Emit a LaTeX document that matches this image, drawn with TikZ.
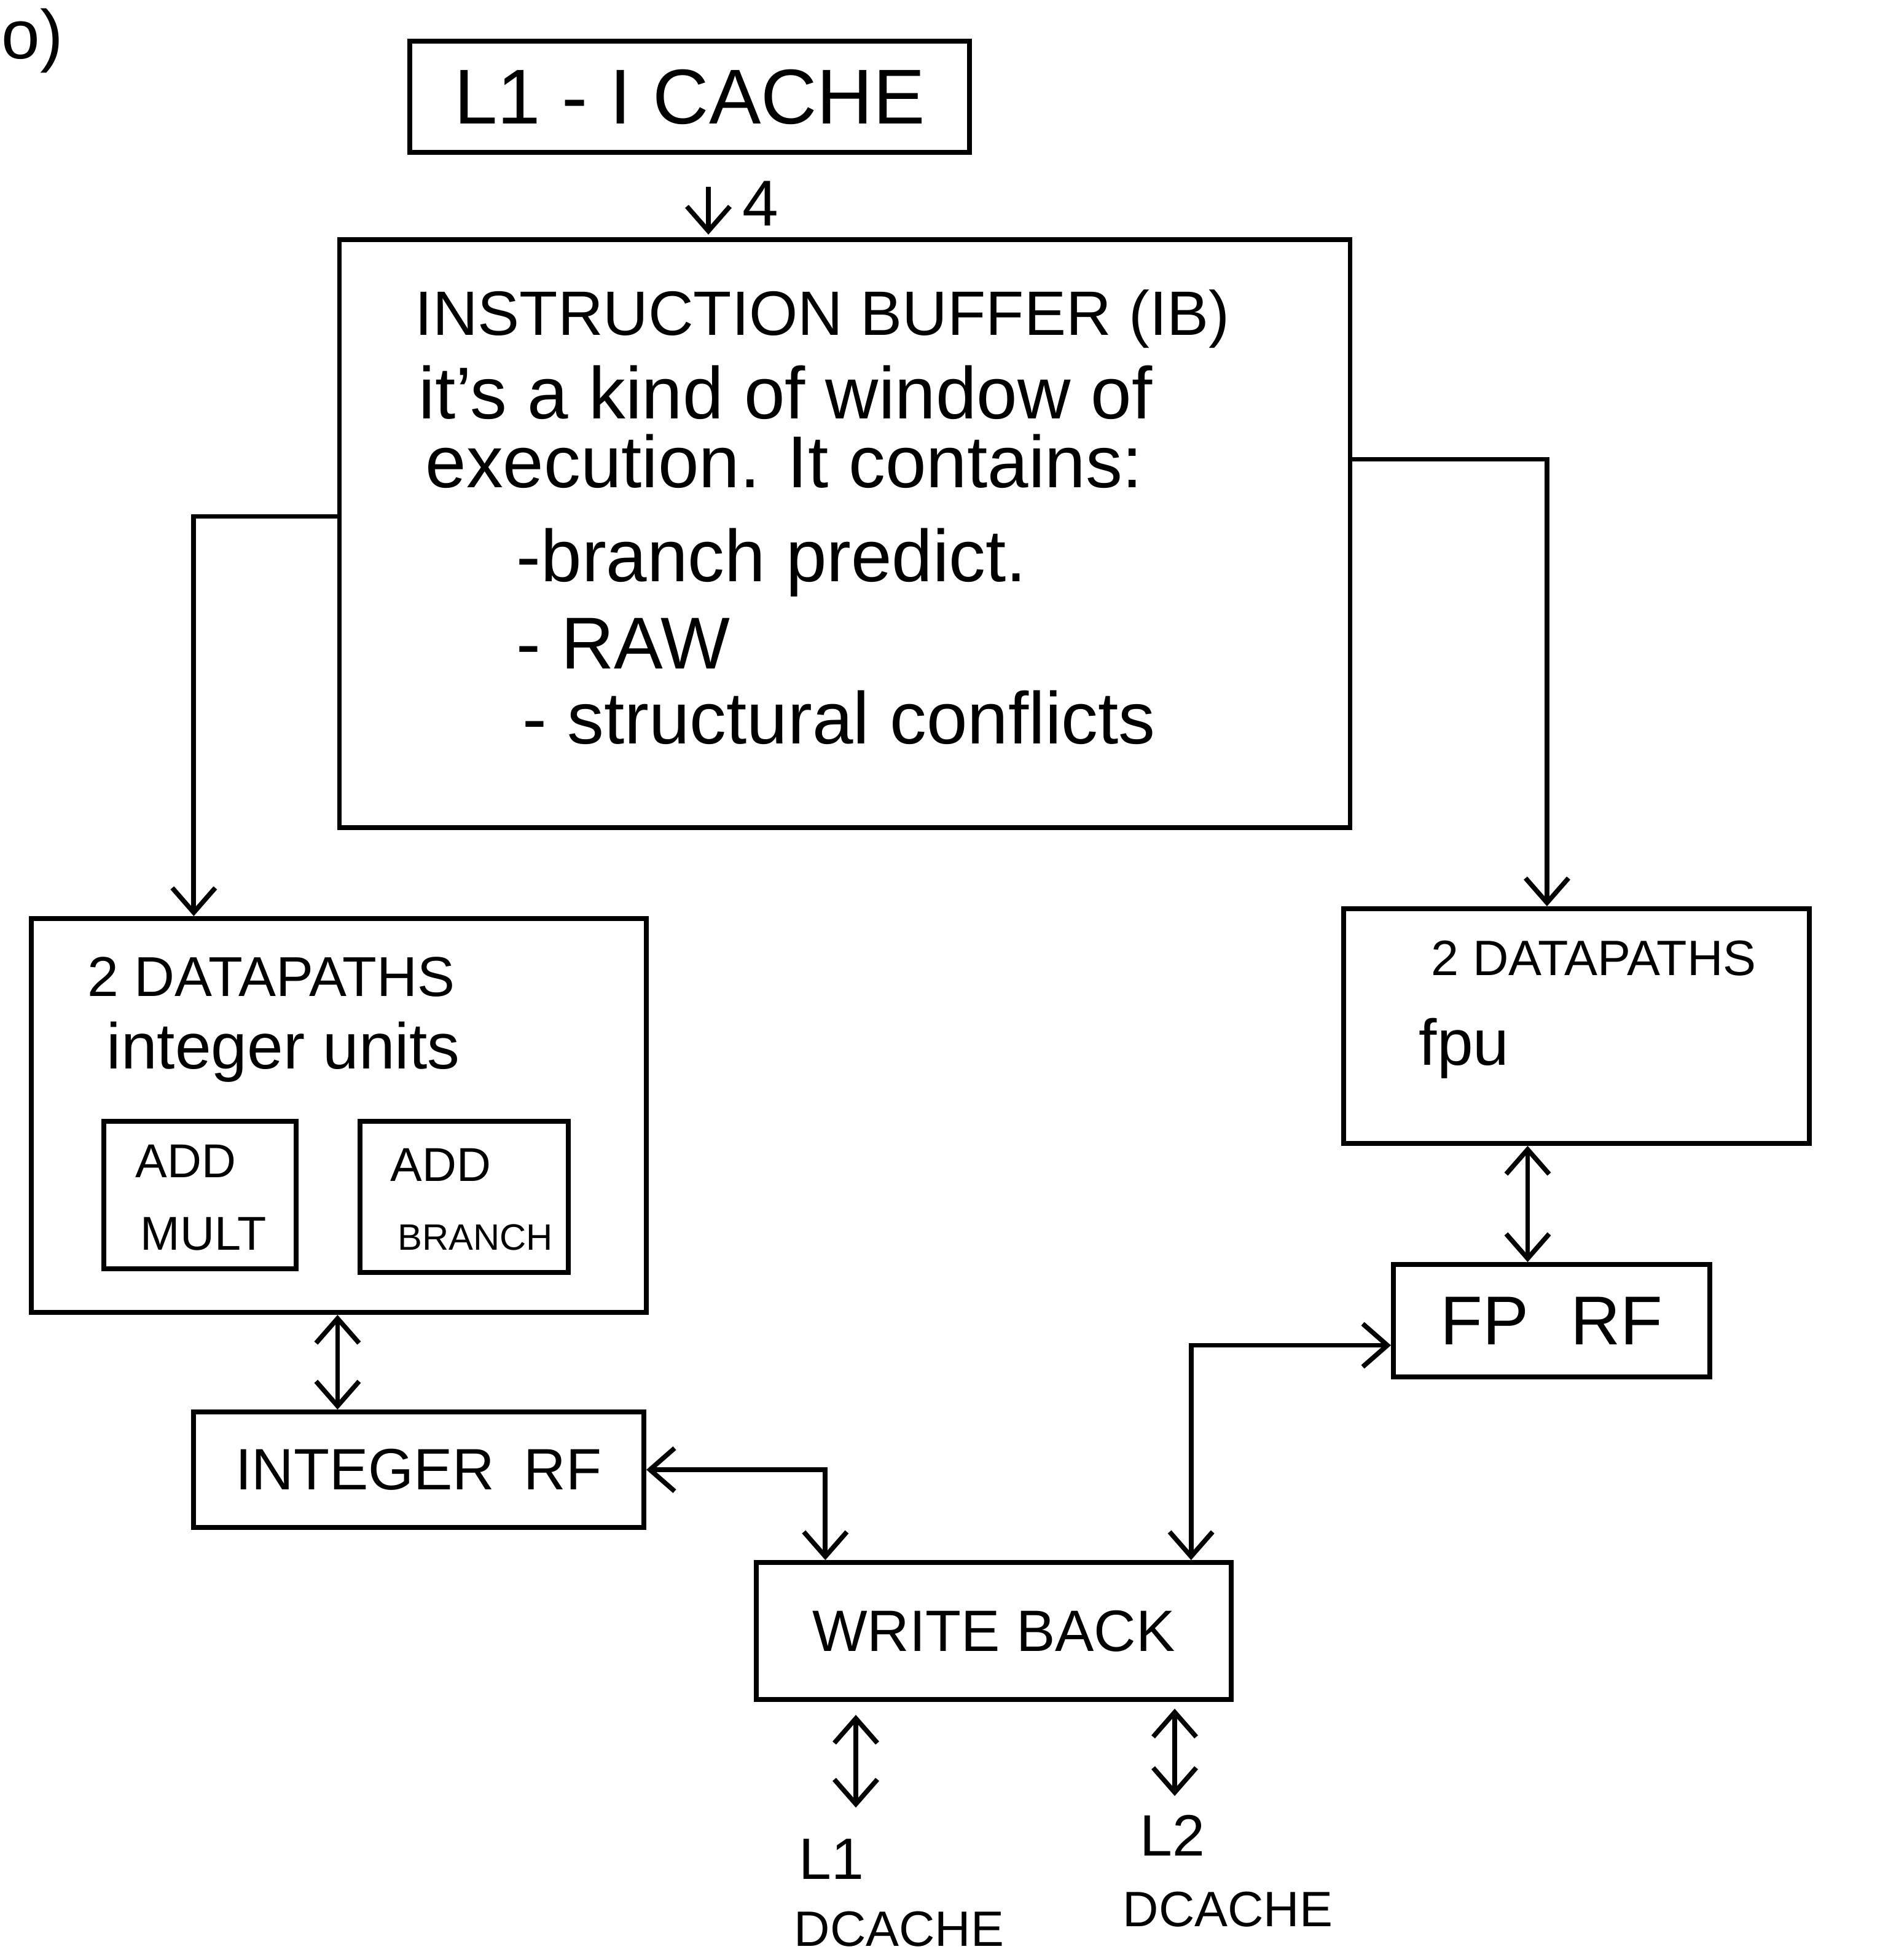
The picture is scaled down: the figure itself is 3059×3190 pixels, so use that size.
\documentclass[tikz,border=0pt]{standalone}
\usepackage{fontspec}
\setmainfont{Liberation Sans}
\usetikzlibrary{arrows.meta}
\begin{document}
\begin{tikzpicture}[x=0.01cm,y=-0.01cm,
  box/.style={draw,line width=2.2pt,rectangle,inner sep=0pt},
  arr/.style={line width=2.2pt,-{Straight Barb[length=4mm,width=7mm]}},
  darr/.style={line width=2.2pt,{Straight Barb[length=4mm,width=7mm]}-{Straight Barb[length=4mm,width=7mm]}},
  txt/.style={inner sep=0pt,anchor=base west},
  big/.style={font=\fontsize{36}{40}\selectfont},
  ibtitle/.style={font=\fontsize{29}{34}\selectfont},
  ibtext/.style={font=\fontsize{34}{40}\selectfont},
  label/.style={font=\fontsize{27}{32}\selectfont},
  small/.style={font=\fontsize{22}{26}\selectfont},
  cachel/.style={txt,font=\fontsize{27}{32}\selectfont},
  cached/.style={txt,font=\fontsize{23}{28}\selectfont},
]
\useasboundingbox (0,0) rectangle (3059,3190);

% corner mark
\node[txt,font=\fontsize{32}{36}\selectfont] (corner) at (2,95) {o)};

% boxes
\node[box,big,minimum width=9.11cm,minimum height=1.81cm] (icache) at (1122.5,157.5) {L1 - I CACHE};
\node[box,minimum width=16.44cm,minimum height=9.57cm] (ib) at (1375,868.5) {};
\node[box,minimum width=10.01cm,minimum height=6.41cm] (dpi) at (551.5,1815.5) {};
\node[box,minimum width=3.13cm,minimum height=2.40cm] (addmult) at (325.5,1945) {};
\node[box,minimum width=3.39cm,minimum height=2.46cm] (addbranch) at (755.5,1948) {};
\node[box,label,minimum width=7.33cm,minimum height=1.88cm] (intrf) at (681.5,2392) {INTEGER\hspace{0.5em}RF};
\node[box,minimum width=7.58cm,minimum height=3.82cm] (dpf) at (2566,1670) {};
\node[box,font=\fontsize{32}{36}\selectfont,minimum width=5.15cm,minimum height=1.83cm] (fprf) at (2525.5,2149.5) {FP\hspace{0.6em}RF};
\node[box,label,minimum width=7.73cm,minimum height=2.23cm] (wb) at (1617.5,2654.5) {WRITE BACK};

% instruction buffer text
\node[txt,ibtitle] (ib1) at (675,545) {INSTRUCTION BUFFER (IB)};
\node[txt,ibtext] (ib2) at (681,681) {it's a kind of window of};
\node[txt,ibtext] (ib3) at (692,793) {execution. It contains:};
\node[txt,ibtext] (ib4) at (840,946) {-branch predict.};
\node[txt,ibtext] (ib5) at (840,1088) {- RAW};
\node[txt,ibtext] (ib6) at (850,1210) {- structural conflicts};

% integer datapaths text
\node[txt,font=\fontsize{26}{30}\selectfont] (dpi1) at (142,1621) {2 DATAPATHS};
\node[txt,font=\fontsize{30}{34}\selectfont] (dpi2) at (173,1739) {integer units};
\node[txt,small] (am1) at (220,1916) {ADD};
\node[txt,small] (am2) at (228,2034) {MULT};
\node[txt,small] (ab1) at (635,1922) {ADD};
\node[txt,font=\fontsize{17}{20}\selectfont] (ab2) at (647,2034) {BRANCH};

% fp datapaths text
\node[txt,font=\fontsize{23}{28}\selectfont] (dpf1) at (2329,1587) {2 DATAPATHS};
\node[txt,font=\fontsize{30}{34}\selectfont] (dpf2) at (2309,1733) {fpu};

% caches
\node[cachel] (l1a) at (1300,3058) {L1};
\node[cached] (l1b) at (1292,3167) {DCACHE};
\node[cachel] (l2a) at (1855,3020) {L2};
\node[cached] (l2b) at (1827,3135) {DCACHE};
\coordinate (l1x) at (1393,0);
\coordinate (l2x) at (1912,0);
\coordinate (ix) at (1153,0);

% connectors
\draw[arr] ([yshift=-0.52cm]icache.south -| ix) -- ([yshift=0.04cm]ib.north -| ix);
\node[txt,font=\fontsize{30}{34}\selectfont] (four) at (1208,367) {4};

\draw[arr] ([yshift=0.28cm]ib.west) -| ([xshift=-2.36cm]dpi.north);
\draw[arr] ([yshift=1.21cm]ib.east) -| ([xshift=-0.48cm]dpf.north);

\draw[darr] ([xshift=-1.32cm]intrf.north |- dpi.south) -- ([xshift=-1.32cm]intrf.north);
\draw[darr] ([xshift=-0.39cm]fprf.north |- dpf.south) -- ([xshift=-0.39cm]fprf.north);

\draw[darr] (intrf.east) -| ([xshift=-2.74cm]wb.north);
\draw[darr] ([yshift=-0.4cm]fprf.west) -| ([xshift=3.21cm]wb.north);

\draw[darr] ([yshift=-0.21cm]wb.south -| l1x) -- ([yshift=0.5cm]l1a.north -| l1x);
\draw[darr] ([yshift=-0.11cm]wb.south -| l2x) -- ([yshift=0.3cm]l2a.north -| l2x);
\end{tikzpicture}
\end{document}
